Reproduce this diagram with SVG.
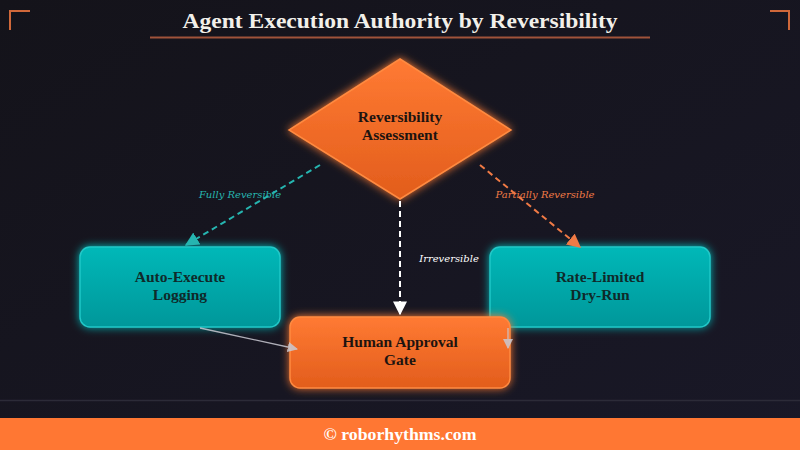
<svg xmlns="http://www.w3.org/2000/svg" width="800" height="450" viewBox="0 0 800 450">
<defs>
<linearGradient id="bg" x1="0" y1="0" x2="1" y2="1"><stop offset="0" stop-color="#14131a"/><stop offset="1" stop-color="#191827"/></linearGradient>
<linearGradient id="og" x1="0" y1="0" x2="0" y2="1"><stop offset="0" stop-color="#ff7a33"/><stop offset="1" stop-color="#e25d1c"/></linearGradient>
<linearGradient id="tg" x1="0" y1="0" x2="0" y2="1"><stop offset="0" stop-color="#00b8b8"/><stop offset="1" stop-color="#00979a"/></linearGradient>
<filter id="go" x="-20%" y="-20%" width="140%" height="140%"><feGaussianBlur in="SourceGraphic" stdDeviation="4" result="b"/><feMerge><feMergeNode in="b"/><feMergeNode in="SourceGraphic"/></feMerge></filter>
<marker id="aT" viewBox="0 0 10 10" refX="9" refY="5" markerWidth="7" markerHeight="7" orient="auto"><path d="M0,0L10,5L0,10z" fill="#26b5b0"/></marker>
<marker id="aO" viewBox="0 0 10 10" refX="9" refY="5" markerWidth="7" markerHeight="7" orient="auto"><path d="M0,0L10,5L0,10z" fill="#f07a45"/></marker>
<marker id="aW" viewBox="0 0 10 10" refX="9" refY="5" markerWidth="7" markerHeight="7" orient="auto"><path d="M0,0L10,5L0,10z" fill="#ffffff"/></marker>
<marker id="aG" viewBox="0 0 10 10" refX="9" refY="5" markerWidth="8" markerHeight="8" orient="auto"><path d="M0,0L10,5L0,10z" fill="#c9c9d2"/></marker>
<style>
.nt{font-family:"Liberation Serif","DejaVu Serif",serif;font-weight:bold;font-size:15.5px;fill:#1d1410;text-anchor:middle}
.tt{font-family:"Liberation Serif","DejaVu Serif",serif;font-weight:bold;font-size:15.5px;fill:#0f2a2a;text-anchor:middle}
.lb{font-family:"DejaVu Serif","Liberation Serif",serif;font-style:italic;font-size:10px;text-anchor:middle}
.br{fill:none;stroke:#d0683a;stroke-width:2}
</style>
</defs>
<rect width="800" height="450" fill="url(#bg)"/>
<path class="br" d="M10,30V11H30"/>
<path class="br" d="M770,11H789V30"/>
<text x="400" y="28" font-family="Liberation Serif,serif" font-weight="bold" font-size="21" fill="#f2f0ea" text-anchor="middle" textLength="435" lengthAdjust="spacingAndGlyphs">Agent Execution Authority by Reversibility</text>
<rect x="150" y="36.5" width="500" height="2" fill="#a0533a"/>
<line x1="0" y1="400.5" x2="800" y2="400.5" stroke="#2c2b38" stroke-width="1.5"/>
<g id="assess">
<path d="M400,59L511,130L400,199L289,130Z" fill="url(#og)" stroke="#ff8a40" stroke-width="1.5" filter="url(#go)"/>
<text class="nt" x="400" y="122">Reversibility</text>
<text class="nt" x="400" y="140">Assessment</text>
</g>
<g id="auto">
<rect x="80" y="247" width="200" height="80" rx="10" fill="url(#tg)" stroke="#20c8c8" stroke-width="1.5" filter="url(#go)"/>
<text class="tt" x="180" y="282">Auto-Execute</text>
<text class="tt" x="180" y="300">Logging</text>
</g>
<g id="rate">
<rect x="490" y="247" width="220" height="80" rx="10" fill="url(#tg)" stroke="#20c8c8" stroke-width="1.5" filter="url(#go)"/>
<text class="tt" x="600" y="282">Rate-Limited</text>
<text class="tt" x="600" y="300">Dry-Run</text>
</g>
<g id="human">
<rect x="290" y="317" width="220" height="71" rx="10" fill="url(#og)" stroke="#ff8a40" stroke-width="1.5" filter="url(#go)"/>
<text class="nt" x="400" y="347">Human Approval</text>
<text class="nt" x="400" y="365">Gate</text>
</g>
<g id="connectors">
<line x1="320" y1="165" x2="186" y2="245" stroke="#26b5b0" stroke-width="2" stroke-dasharray="6,4" marker-end="url(#aT)"/>
<line x1="480" y1="165" x2="580" y2="247" stroke="#f07a45" stroke-width="2" stroke-dasharray="6,4" marker-end="url(#aO)"/>
<line x1="400" y1="201" x2="400" y2="314" stroke="#ffffff" stroke-width="2" stroke-dasharray="6,4" marker-end="url(#aW)"/>
<line x1="200" y1="328" x2="297" y2="349" stroke="#c9c9d2" stroke-width="1.3" marker-end="url(#aG)" opacity="0.85"/>
<line x1="508" y1="328" x2="508" y2="348" stroke="#c9c9d2" stroke-width="1.3" marker-end="url(#aG)" opacity="0.85"/>
<text class="lb" x="240" y="198" fill="#26b5b0">Fully Reversible</text>
<text class="lb" x="545" y="198" fill="#f07a45">Partially Reversible</text>
<text class="lb" x="449" y="262" fill="#ffffff">Irreversible</text>
</g>
<rect x="0" y="418" width="800" height="32" fill="#ff7733"/>
<text x="400" y="440" font-family="Liberation Serif,serif" font-weight="bold" font-size="17" fill="#ffffff" text-anchor="middle" textLength="153" lengthAdjust="spacingAndGlyphs">© roborhythms.com</text>
</svg>
